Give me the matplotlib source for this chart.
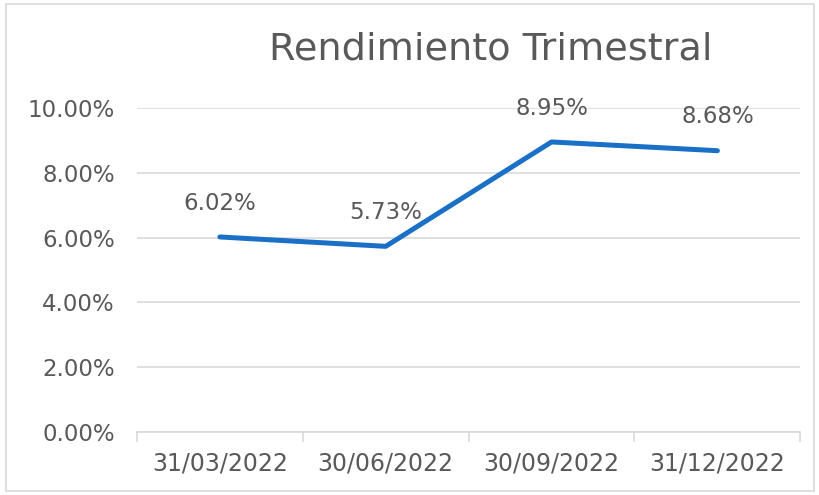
import matplotlib
matplotlib.use("Agg")
import matplotlib.pyplot as plt
from matplotlib.patches import Rectangle

fechas = ["31/03/2022", "30/06/2022", "30/09/2022", "31/12/2022"]
rendimiento = [6.02, 5.73, 8.95, 8.68]
y_ticks = [0, 2, 4, 6, 8, 10]

plt.rcParams['font.family'] = ['DejaVu Sans']
gris = '#595959'

fig = plt.figure(figsize=(8.2, 4.95), dpi=100)
ax = fig.add_axes([0.167, 0.127, 0.809, 0.655])

x = range(len(fechas))
ax.plot(x, rendimiento, color='#1a6fc6', linewidth=3.6, solid_capstyle='round', zorder=3)
for xi, v in zip(x, rendimiento):
    ax.annotate(f"{v:.2f}%", (xi, v), xytext=(0, 16), textcoords='offset points',
                ha='center', va='bottom', fontsize=16.5, color=gris)

ax.set_xlim(-0.5, len(fechas) - 0.5)
ax.set_ylim(0, 10)
ax.set_yticks(y_ticks)
ax.set_yticklabels([f"{t:.2f}%" for t in y_ticks], fontsize=16.5, color=gris)
ax.set_xticks(list(x))
ax.set_xticklabels(fechas, fontsize=17, color=gris)
ax.tick_params(axis='x', length=0, pad=14)
ax.tick_params(axis='y', length=0, pad=16)

# marcas entre categorias
ax.set_xticks([i - 0.5 for i in range(len(fechas) + 1)], minor=True)
ax.tick_params(axis='x', which='minor', length=7, color='#d9d9d9', width=1.2)

ax.grid(axis='y', color='#d9d9d9', linewidth=1.2)
ax.set_axisbelow(True)
for s in ['top', 'right', 'left']:
    ax.spines[s].set_visible(False)
ax.spines['bottom'].set_color('#d9d9d9')
ax.spines['bottom'].set_linewidth(1.2)

fig.text(0.598, 0.90, "Rendimiento Trimestral", ha='center', va='center',
         fontsize=27.5, color=gris)

fig.patches.append(Rectangle((0.007, 0.008), 0.986, 0.984, transform=fig.transFigure,
                             fill=False, edgecolor='#d9d9d9', linewidth=1.2))

fig.savefig("out.png", dpi=100)
